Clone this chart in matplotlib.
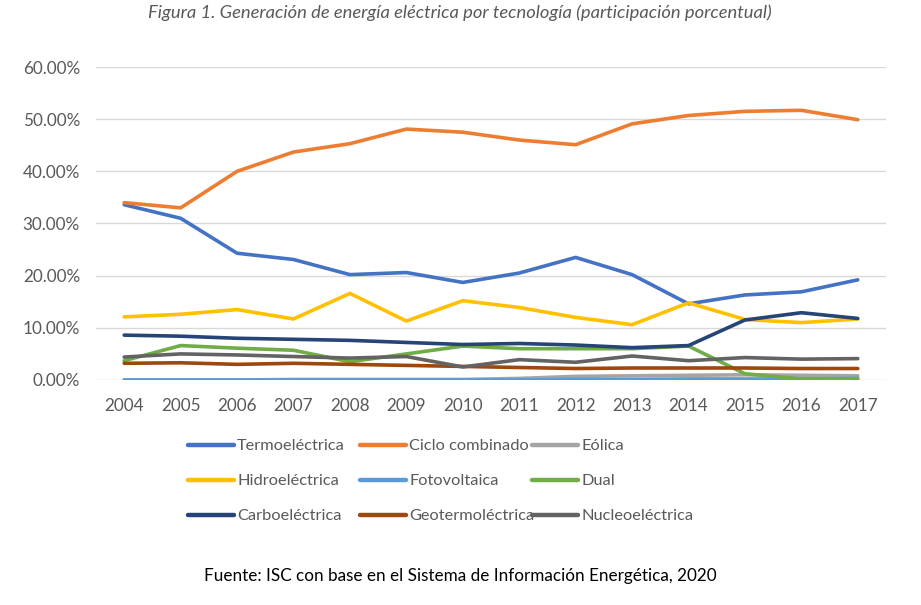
import matplotlib
matplotlib.use("Agg")
import matplotlib.pyplot as plt
from matplotlib.ticker import FuncFormatter

years = list(range(2004, 2018))
termo = [33.6, 31.0, 24.3, 23.1, 20.2, 20.6, 18.7, 20.5, 23.5, 20.2, 14.6, 16.3, 16.9, 19.2]
ciclo = [34.0, 33.0, 40.0, 43.7, 45.3, 48.1, 47.5, 46.0, 45.1, 49.1, 50.7, 51.5, 51.7, 49.9]
eolica = [0.0, 0.0, 0.0, 0.1, 0.1, 0.1, 0.1, 0.3, 0.7, 0.8, 0.9, 1.0, 0.9, 0.8]
hidro = [12.1, 12.6, 13.5, 11.7, 16.6, 11.3, 15.2, 13.9, 12.0, 10.6, 14.8, 11.6, 11.0, 11.7]
foto = [0.0, 0.0, 0.0, 0.0, 0.0, 0.0, 0.0, 0.0, 0.1, 0.1, 0.2, 0.2, 0.2, 0.3]
dual = [3.7, 6.6, 6.1, 5.7, 3.5, 5.0, 6.5, 6.0, 6.0, 6.0, 6.5, 1.2, 0.2, 0.1]
carbo = [8.6, 8.4, 8.0, 7.8, 7.6, 7.2, 6.8, 7.0, 6.7, 6.2, 6.6, 11.5, 12.9, 11.8]
geo = [3.2, 3.3, 3.0, 3.2, 3.0, 2.8, 2.6, 2.4, 2.2, 2.3, 2.3, 2.3, 2.2, 2.2]
nucleo = [4.4, 5.0, 4.8, 4.5, 4.2, 4.5, 2.5, 3.9, 3.4, 4.6, 3.7, 4.3, 4.0, 4.1]

series = [
    ("Termoeléctrica", termo, "#4472C4"),
    ("Ciclo combinado", ciclo, "#ED7D31"),
    ("Eólica", eolica, "#A5A5A5"),
    ("Hidroeléctrica", hidro, "#FFC000"),
    ("Fotovoltaica", foto, "#5B9BD5"),
    ("Dual", dual, "#70AD47"),
    ("Carboeléctrica", carbo, "#264478"),
    ("Geotermoléctrica", geo, "#9E480E"),
    ("Nucleoeléctrica", nucleo, "#636363"),
]

plt.rcParams['font.family'] = ['Lato', 'DejaVu Sans']
fig = plt.figure(figsize=(9.21, 6.05), dpi=100)
ax = fig.add_axes([96/921, 1-380/605, 790/921, (380-67)/605])

lines = []
for i, (lbl, vals, col) in enumerate(series):
    ln, = ax.plot(years, [v/100 for v in vals], color=col, lw=2.6, label=lbl, zorder=3+i,
                  solid_capstyle='round', solid_joinstyle='round')
    lines.append(ln)

ax.set_xlim(2003.5, 2017.5)
ax.set_ylim(0, 0.6)
ax.set_yticks([0, 0.1, 0.2, 0.3, 0.4, 0.5, 0.6])
ax.yaxis.set_major_formatter(FuncFormatter(lambda v, p: f"{v*100:.2f}%"))
ax.set_xticks(years)
ax.grid(axis='y', color='#D9D9D9', lw=1)
ax.set_axisbelow(True)
for s in ax.spines.values():
    s.set_visible(False)
ax.tick_params(length=0, labelsize=12.3, colors='#595959')
ax.tick_params(axis='x', pad=13)
ax.tick_params(axis='y', pad=11.5)

# legend: three columns laid out like the Excel legend
col_x = [188, 360, 532]
for c in range(3):
    idx = [c, c + 3, c + 6]
    leg = fig.legend([lines[i] for i in idx], [series[i][0] for i in idx],
                     loc='upper left', bbox_to_anchor=(col_x[c]/921, 1-439/605),
                     frameon=False, fontsize=11.8, handlelength=2.8, handletextpad=0.2,
                     labelspacing=1.25, borderpad=0, borderaxespad=0, labelcolor='#595959')
    for h in leg.legend_handles:
        h.set_linewidth(3.2)
        h.set_solid_capstyle('round')

fig.text(460/921, 1-13/605, "Figura 1. Generación de energía eléctrica por tecnología (participación porcentual)",
         ha='center', va='center', style='italic', fontsize=13.2, color='#595959')
fig.text(460/921, 1-576/605, "Fuente: ISC con base en el Sistema de Información Energética, 2020",
         ha='center', va='center', fontsize=12.3, color='black')

fig.savefig("out.png", dpi=100)
